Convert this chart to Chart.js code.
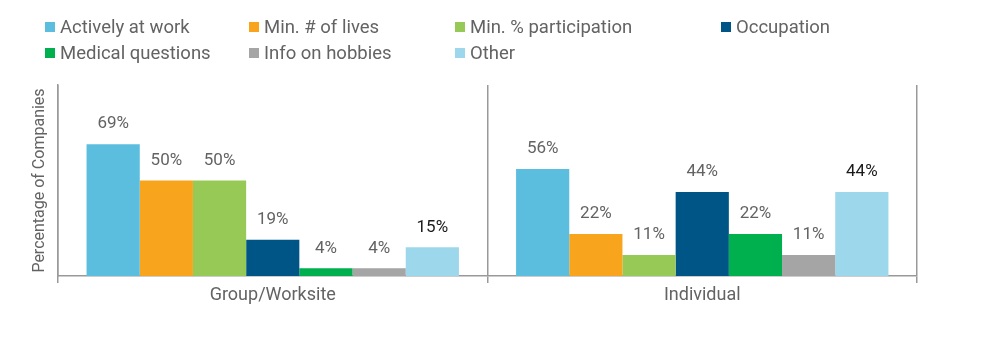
<!DOCTYPE html>
<html>
<head>
<meta charset="utf-8">
<script src="https://cdn.jsdelivr.net/npm/chart.js@4"></script>
<style>
  html, body { margin:0; padding:0; background:#fff; }
  #wrap { position:relative; width:1000px; height:342px; }
  #chart { position:absolute; left:0; top:0; }
  .lg { position:absolute; font-family:Roboto, sans-serif; font-size:18.5px; color:#636363; white-space:nowrap; line-height:20px; }
  .lg span { display:inline-block; width:10px; height:10px; margin-right:5px; vertical-align:1px; }
</style>
</head>
<body>
<div id="wrap">
  <canvas id="chart" width="1000" height="342"></canvas>
</div>
<script>
const categories = ['Group/Worksite', 'Individual'];
const seriesNames = ['Actively at work', 'Min. # of lives', 'Min. % participation', 'Occupation', 'Medical questions', 'Info on hobbies', 'Other'];
const activelyAtWork = [69, 56];
const minLives = [50, 22];
const minParticipation = [50, 11];
const occupation = [19, 44];
const medicalQuestions = [4, 22];
const infoOnHobbies = [4, 11];
const other = [15, 44];
const colors = ['#5BBEDF', '#F8A51D', '#97C957', '#005587', '#00AF4E', '#A5A5A5', '#9DD7EB'];

const values = [activelyAtWork, minLives, minParticipation, occupation, medicalQuestions, infoOnHobbies, other];

// legend in fixed columns like the original
const legendPos = [[45,17],[249,17],[455,17],[721,17],[45,43],[249,43],[455,43]];
const wrap = document.getElementById('wrap');
seriesNames.forEach((n, i) => {
  const d = document.createElement('div');
  d.className = 'lg';
  d.style.left = legendPos[i][0] + 'px';
  d.style.top = legendPos[i][1] + 'px';
  d.innerHTML = `<span style="background:${colors[i]}"></span>${n}`;
  wrap.appendChild(d);
});

const labelPlugin = {
  id: 'barLabels',
  afterDatasetsDraw(chart) {
    const ctx = chart.ctx;
    ctx.save();
    ctx.font = '17px Roboto, sans-serif';
    ctx.textAlign = 'center';
    ctx.textBaseline = 'middle';
    chart.data.datasets.forEach((ds, i) => {
      chart.getDatasetMeta(i).data.forEach((bar, j) => {
        ctx.fillStyle = i === values.length - 1 ? '#1a1a1a' : '#636363';
        ctx.fillText(ds.data[j] + '%', bar.x, bar.y - 20);
      });
    });
    ctx.restore();
  }
};

new Chart(document.getElementById('chart'), {
  type: 'bar',
  data: {
    labels: categories,
    datasets: seriesNames.map((n, i) => ({
      label: n, data: values[i], backgroundColor: colors[i],
      categoryPercentage: 0.867, barPercentage: 1.0, borderWidth: 0
    }))
  },
  options: {
    responsive: false,
    animation: false,
    layout: { padding: { top: 85, right: 83, bottom: 26, left: 0 } },
    plugins: { legend: { display: false }, tooltip: { enabled: false } },
    scales: {
      x: {
        grid: { offset: true, drawOnChartArea: true, color: '#999', lineWidth: 1.5, tickLength: 7 },
        border: { display: true, color: '#999', width: 1.5 },
        ticks: { color: '#636363', font: { family: 'Roboto', size: 18 }, padding: 2 },
        afterFit(s) { s.height = 40; }
      },
      y: {
        min: 0, max: 100,
        grid: { display: false },
        border: { display: true, color: '#999', width: 1.5 },
        ticks: { display: false },
        title: { display: true, text: 'Percentage of Companies', color: '#636363', font: { family: 'Roboto', size: 16 }, padding: { top: 30, bottom: 0 } },
        afterFit(s) { s.width = 58; }
      }
    }
  },
  plugins: [labelPlugin]
});
</script>
</body>
</html>
